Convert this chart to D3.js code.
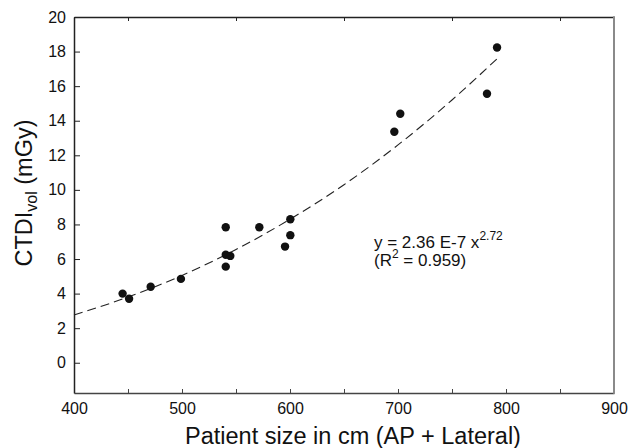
<!DOCTYPE html>
<html><head><meta charset="utf-8">
<script src="https://cdn.jsdelivr.net/npm/d3@7"></script>
<style>body{margin:0;background:#fff}svg{display:block}text{font-family:"Liberation Sans",Arial,sans-serif;fill:#111}</style>
</head><body>
<svg id="c" width="628" height="448"></svg>
<script>
// measured data (patient size cm, CTDIvol mGy)
const sizeX = [445, 451, 471, 499, 540.5, 540.5, 540.5, 544.7, 571.6, 595.4, 600.3, 600.3, 696.6, 702.1, 782.4, 791.7];
const ctdiY = [4.0, 3.7, 4.4, 4.85, 5.56, 7.84, 6.25, 6.18, 7.84, 6.72, 7.38, 8.3, 13.36, 14.4, 15.56, 18.24];
// dashed fit curve
const fitX = [400, 450, 500, 550, 600, 650, 700, 750, 792];
const fitY = [2.76, 3.8, 5.05, 6.55, 8.3, 10.3, 12.6, 15.2, 17.6];
const xTicks = [400, 500, 600, 700, 800, 900];
const yTicks = [0, 2, 4, 6, 8, 10, 12, 14, 16, 18, 20];
const xMinor = [450, 550, 650, 750, 850];

const svg = d3.select("#c");
const L = 74, R = 614, T = 17, B = 393;
const x = d3.scaleLinear().domain([400, 900]).range([L, R]);
const y = d3.scaleLinear().domain([-1.75, 20]).range([B, T]);

// bottom axis
const gx = svg.append("g").attr("transform", `translate(0,${B})`)
  .call(d3.axisBottom(x).tickValues(d3.range(400, 901, 50)).tickSizeInner(-4).tickSizeOuter(0).tickFormat(d => xTicks.includes(d) ? d : ""));
gx.select(".domain").attr("stroke", "#444").attr("stroke-width", 1.5);
gx.selectAll(".tick line").attr("stroke", "#444");
gx.selectAll(".tick text").attr("y", 10).attr("dy", "0.71em").style("font-size", "16px").attr("fill", "#111");

// left axis
const gy = svg.append("g").attr("transform", `translate(${L},0)`)
  .call(d3.axisLeft(y).tickValues(yTicks).tickSizeInner(-6).tickSizeOuter(0));
gy.select(".domain").attr("stroke", "#222").attr("stroke-width", 1.5);
gy.selectAll(".tick line").attr("stroke", "#222");
gy.selectAll(".tick text").attr("x", -8).style("font-size", "16px").attr("fill", "#111");

// top axis (minor ticks only)
const gt = svg.append("g").attr("transform", `translate(0,${T})`)
  .call(d3.axisTop(x).tickValues(xMinor).tickSizeInner(-4).tickSizeOuter(0).tickFormat(""));
gt.select(".domain").attr("stroke", "#222").attr("stroke-width", 1.5);
gt.selectAll(".tick line").attr("stroke", "#222");

// right border
svg.append("line").attr("x1", R).attr("x2", R).attr("y1", T - 0.75).attr("y2", B + 0.75)
  .attr("stroke", "#8a8a8a").attr("stroke-width", 2);

// fit curve
svg.append("path").datum(fitX.map((v, i) => [v, fitY[i]]))
  .attr("d", d3.line().x(d => x(d[0])).y(d => y(d[1])).curve(d3.curveMonotoneX))
  .attr("fill", "none").attr("stroke", "#222").attr("stroke-width", 1.1).attr("stroke-dasharray", "9,5");

// points
svg.append("g").selectAll("circle").data(sizeX).join("circle")
  .attr("cx", d => x(d)).attr("cy", (d, i) => y(ctdiY[i])).attr("r", 4.2).attr("fill", "#111");

// annotation
const a1 = svg.append("text").attr("x", 374).attr("y", 248).style("font-size", "17px");
a1.append("tspan").text("y = 2.36 E-7 x");
a1.append("tspan").attr("dy", -8).style("font-size", "12px").text("2.72");
const a2 = svg.append("text").attr("x", 374).attr("y", 266).style("font-size", "17px");
a2.append("tspan").text("(R");
a2.append("tspan").attr("dy", -8).style("font-size", "12px").text("2");
a2.append("tspan").attr("dy", 8).text(" = 0.959)");

// axis titles
svg.append("text").attr("x", 353).attr("y", 444).attr("text-anchor", "middle").style("font-size", "23.5px").text("Patient size in cm (AP + Lateral)");
const yt = svg.append("text").attr("transform", "translate(32,193) rotate(-90)").attr("text-anchor", "middle").style("font-size", "23.5px");
yt.append("tspan").text("CTDI");
yt.append("tspan").attr("dy", 5).style("font-size", "16px").text("vol");
yt.append("tspan").attr("dy", -5).text(" (mGy)");
</script>
</body></html>
